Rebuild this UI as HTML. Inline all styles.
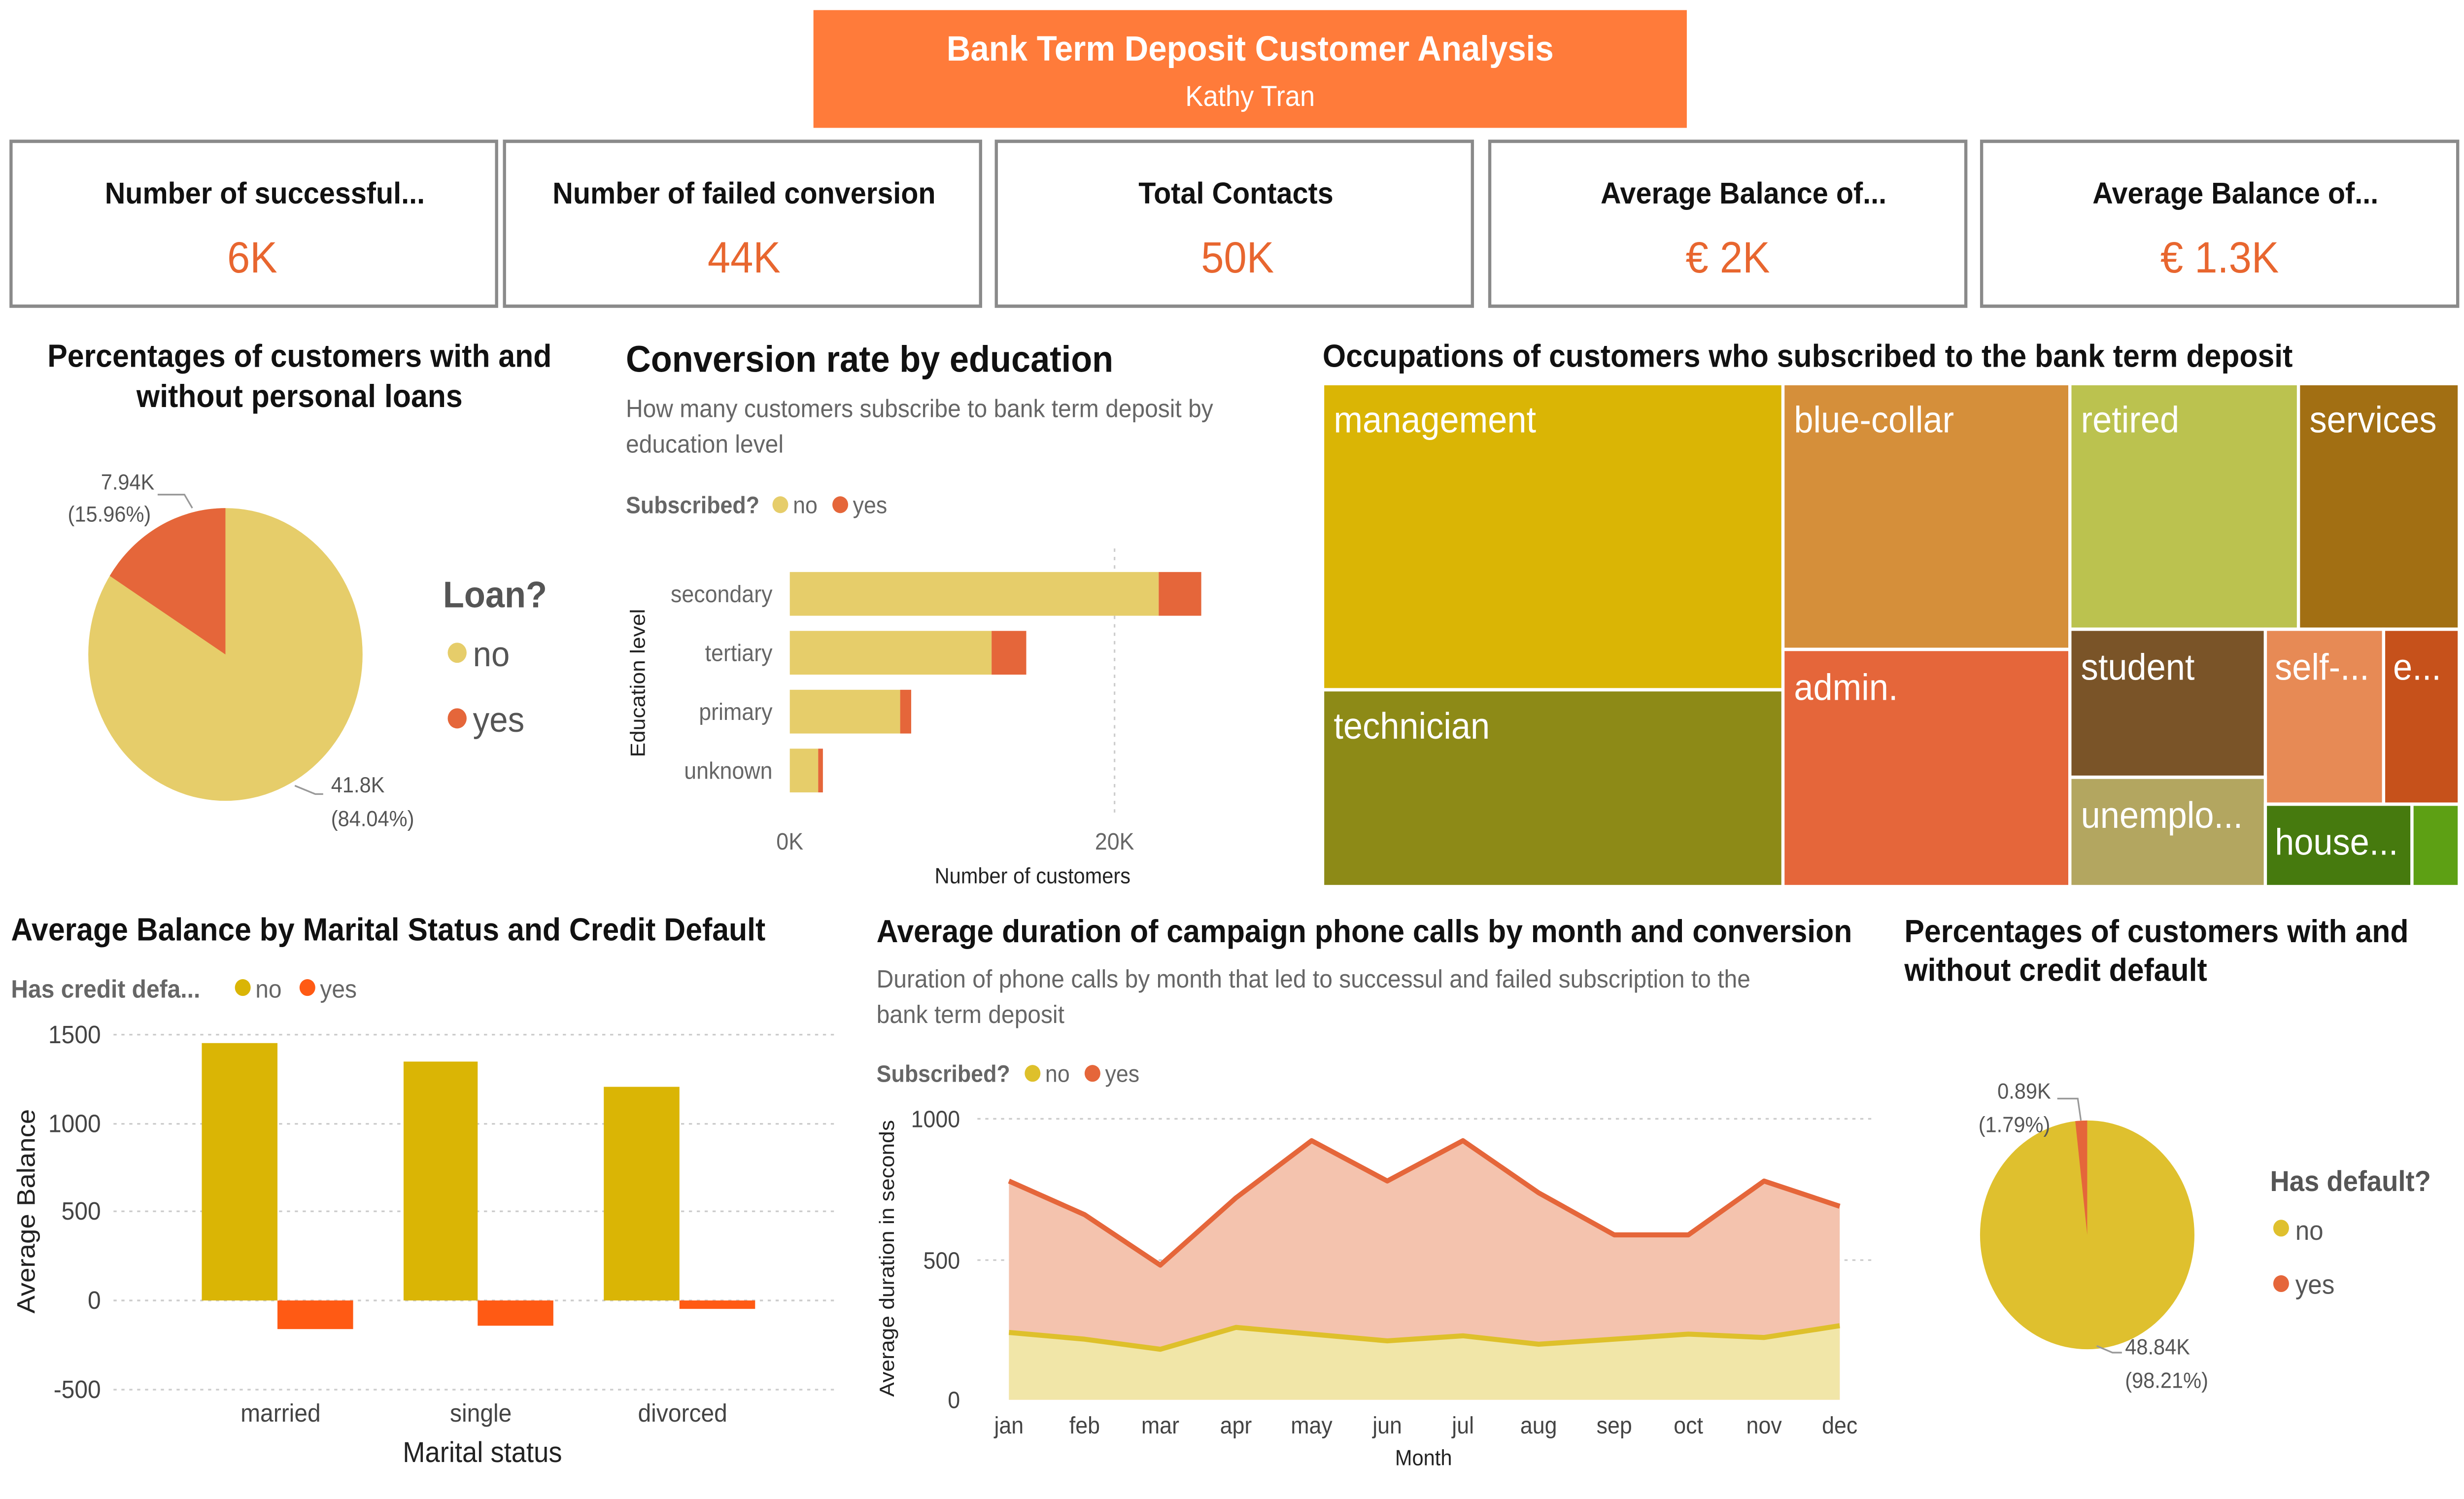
<!DOCTYPE html>
<html><head><meta charset="utf-8"><style>
html,body{margin:0;padding:0;background:#fff;width:100%;height:100%;overflow:hidden;}
svg{display:block;position:fixed;left:0;top:0;width:100vw;height:100vh;font-family:"Liberation Sans",sans-serif;}
</style></head><body>
<svg viewBox="0 0 1563 891" preserveAspectRatio="none" xmlns="http://www.w3.org/2000/svg">
<rect x="0" y="0" width="1563" height="891" fill="#fff"/>
<rect x="516" y="6" width="554" height="70" fill="#FF7B3A"/>
<text x="793" y="36" text-anchor="middle" font-size="21" font-weight="bold" fill="#fff">Bank Term Deposit Customer Analysis</text>
<text x="793" y="63" text-anchor="middle" font-size="17" fill="#fff">Kathy Tran</text>
<g fill="#fff" stroke="#8a8a8a" stroke-width="2">
<rect x="7" y="84" width="308" height="98"/>
<rect x="320" y="84" width="302" height="98"/>
<rect x="632" y="84" width="302" height="98"/>
<rect x="945" y="84" width="302" height="98"/>
<rect x="1257" y="84" width="302" height="98"/>
</g>
<g text-anchor="middle" font-size="18" font-weight="bold" fill="#111">
<text x="168" y="121">Number of successful...</text>
<text x="472" y="121">Number of failed conversion</text>
<text x="784" y="121">Total Contacts</text>
<text x="1106" y="121">Average Balance of...</text>
<text x="1418" y="121">Average Balance of...</text>
</g>
<g text-anchor="middle" font-size="26" fill="#E8662F">
<text x="160" y="162">6K</text>
<text x="472" y="162">44K</text>
<text x="785" y="162">50K</text>
<text x="1096" y="162">€ 2K</text>
<text x="1408" y="162">€ 1.3K</text>
</g>
<g font-size="19" font-weight="bold" fill="#111" text-anchor="middle">
<text x="190" y="218">Percentages of customers with and</text>
<text x="190" y="242">without personal loans</text>
</g>
<circle cx="143" cy="389" r="87" fill="#E6CD6A"/>
<path d="M143,389 L143,302 A87,87 0 0 0 69.6,342.3 Z" fill="#E5663A"/>
<polyline points="100,294 117,294 122,302" fill="none" stroke="#999" stroke-width="1"/>
<polyline points="187,467 200,472 205,472" fill="none" stroke="#999" stroke-width="1"/>
<g font-size="13" fill="#555">
<text x="64" y="291">7.94K</text>
<text x="43" y="310">(15.96%)</text>
<text x="210" y="471">41.8K</text>
<text x="210" y="491">(84.04%)</text>
</g>
<text x="281" y="361" font-size="22" font-weight="bold" fill="#555">Loan?</text>
<circle cx="290" cy="388" r="6" fill="#E6CD6A"/>
<text x="300" y="396" font-size="21" fill="#555">no</text>
<circle cx="290" cy="427" r="6" fill="#E5663A"/>
<text x="300" y="435" font-size="21" fill="#555">yes</text>
<text x="397" y="221" font-size="22" font-weight="bold" fill="#111">Conversion rate by education</text>
<text x="397" y="248" font-size="15" fill="#666">How many customers subscribe to bank term deposit by</text>
<text x="397" y="269" font-size="15" fill="#666">education level</text>
<text x="397" y="305" font-size="14" font-weight="bold" fill="#666">Subscribed?</text>
<circle cx="495" cy="300" r="5" fill="#E6CD6A"/><text x="503" y="305" font-size="14" fill="#666">no</text>
<circle cx="533" cy="300" r="5" fill="#E5663A"/><text x="541" y="305" font-size="14" fill="#666">yes</text>
<line x1="707" y1="326" x2="707" y2="485" stroke="#ccc" stroke-dasharray="2,3"/>
<g fill="#E6CD6A">
<rect x="501" y="340" width="234" height="26"/>
<rect x="501" y="375" width="128" height="26"/>
<rect x="501" y="410" width="70" height="26"/>
<rect x="501" y="445" width="18" height="26"/>
</g>
<g fill="#E5663A">
<rect x="735" y="340" width="27" height="26"/>
<rect x="629" y="375" width="22" height="26"/>
<rect x="571" y="410" width="7" height="26"/>
<rect x="519" y="445" width="3" height="26"/>
</g>
<g font-size="14" fill="#666" text-anchor="end">
<text x="490" y="358">secondary</text>
<text x="490" y="393">tertiary</text>
<text x="490" y="428">primary</text>
<text x="490" y="463">unknown</text>
</g>
<g font-size="14" fill="#666" text-anchor="middle">
<text x="501" y="505">0K</text>
<text x="707" y="505">20K</text>
</g>
<text x="655" y="525" font-size="13" fill="#222" text-anchor="middle">Number of customers</text>
<text transform="translate(409,406) rotate(-90)" font-size="13" fill="#222" text-anchor="middle">Education level</text>
<text x="839" y="218" font-size="19" font-weight="bold" fill="#111">Occupations of customers who subscribed to the bank term deposit</text>
<g stroke="#fff" stroke-width="2">
<rect x="839" y="228" width="292" height="182" fill="#DAB505"/>
<rect x="839" y="410" width="292" height="117" fill="#8D8A17"/>
<rect x="1131" y="228" width="182" height="158" fill="#D58F3A"/>
<rect x="1131" y="386" width="182" height="141" fill="#E5663A"/>
<rect x="1313" y="228" width="145" height="146" fill="#BBC24F"/>
<rect x="1458" y="228" width="102" height="146" fill="#A26F13"/>
<rect x="1313" y="374" width="124" height="88" fill="#7A5428"/>
<rect x="1437" y="374" width="75" height="104" fill="#E78A55"/>
<rect x="1512" y="374" width="48" height="104" fill="#C6511B"/>
<rect x="1313" y="462" width="124" height="65" fill="#B3A660"/>
<rect x="1437" y="478" width="93" height="49" fill="#467A0E"/>
<rect x="1530" y="478" width="30" height="49" fill="#5DA014"/>
</g>
<g font-size="22" fill="#fff">
<text x="846" y="257">management</text>
<text x="846" y="439">technician</text>
<text x="1138" y="257">blue-collar</text>
<text x="1138" y="416">admin.</text>
<text x="1320" y="257">retired</text>
<text x="1465" y="257">services</text>
<text x="1320" y="404">student</text>
<text x="1443" y="404">self-...</text>
<text x="1518" y="404">e...</text>
<text x="1320" y="492">unemplo...</text>
<text x="1443" y="508">house...</text>
</g>
<text x="7" y="559" font-size="19" font-weight="bold" fill="#111">Average Balance by Marital Status and Credit Default</text>
<text x="7" y="593" font-size="15" font-weight="bold" fill="#666">Has credit defa...</text>
<circle cx="154" cy="587" r="5" fill="#DAB505"/><text x="162" y="593" font-size="15" fill="#666">no</text>
<circle cx="195" cy="587" r="5" fill="#FF5A14"/><text x="203" y="593" font-size="15" fill="#666">yes</text>
<g stroke="#ccc" stroke-dasharray="2,3">
<line x1="72" y1="615" x2="530" y2="615"/><line x1="72" y1="668" x2="530" y2="668"/>
<line x1="72" y1="720" x2="530" y2="720"/><line x1="72" y1="773" x2="530" y2="773"/>
<line x1="72" y1="826" x2="530" y2="826"/>
</g>
<g font-size="15" fill="#444" text-anchor="end">
<text x="64" y="620">1500</text><text x="64" y="673">1000</text><text x="64" y="725">500</text>
<text x="64" y="778">0</text><text x="64" y="831">-500</text>
</g>
<g fill="#DAB505">
<rect x="128" y="620" width="48" height="153"/>
<rect x="256" y="631" width="47" height="142"/>
<rect x="383" y="646" width="48" height="127"/>
</g>
<g fill="#FF5A14">
<rect x="176" y="773" width="48" height="17"/>
<rect x="303" y="773" width="48" height="15"/>
<rect x="431" y="773" width="48" height="5"/>
</g>
<g font-size="15" fill="#444" text-anchor="middle">
<text x="178" y="845">married</text><text x="305" y="845">single</text><text x="433" y="845">divorced</text>
</g>
<text x="306" y="869" font-size="17" fill="#222" text-anchor="middle">Marital status</text>
<text transform="translate(22,720) rotate(-90)" font-size="16" fill="#222" text-anchor="middle">Average Balance</text>
<text x="556" y="560" font-size="19" font-weight="bold" fill="#111">Average duration of campaign phone calls by month and conversion</text>
<text x="556" y="587" font-size="15" fill="#666">Duration of phone calls by month that led to successul and failed subscription to the</text>
<text x="556" y="608" font-size="15" fill="#666">bank term deposit</text>
<text x="556" y="643" font-size="14" font-weight="bold" fill="#666">Subscribed?</text>
<circle cx="655" cy="638" r="5" fill="#DEC02B"/><text x="663" y="643" font-size="14" fill="#666">no</text>
<circle cx="693" cy="638" r="5" fill="#E5663A"/><text x="701" y="643" font-size="14" fill="#666">yes</text>
<g stroke="#ccc" stroke-dasharray="2,3">
<line x1="620" y1="665" x2="1187" y2="665"/><line x1="620" y1="749" x2="1187" y2="749"/>
</g>
<g font-size="14" fill="#444" text-anchor="end">
<text x="609" y="670">1000</text><text x="609" y="754">500</text><text x="609" y="837">0</text>
</g>
<path d="M640,702 L688,722 L736,752 L784,712 L832,678 L880,702 L928,678 L976,709 L1024,734 L1071,734 L1119,702 L1167,717 L1167,832 L640,832 Z" fill="#F4C3AE"/>
<path d="M640,792 L688,796 L736,802 L784,789 L832,793 L880,797 L928,794 L976,799 L1024,796 L1071,793 L1119,795 L1167,788 L1167,832 L640,832 Z" fill="#F1E6A8"/>
<polyline points="640,702 688,722 736,752 784,712 832,678 880,702 928,678 976,709 1024,734 1071,734 1119,702 1167,717" fill="none" stroke="#E5663A" stroke-width="3" stroke-linejoin="round"/>
<polyline points="640,792 688,796 736,802 784,789 832,793 880,797 928,794 976,799 1024,796 1071,793 1119,795 1167,788" fill="none" stroke="#DEC02B" stroke-width="3" stroke-linejoin="round"/>
<g font-size="14" fill="#444" text-anchor="middle">
<text x="640" y="852">jan</text><text x="688" y="852">feb</text><text x="736" y="852">mar</text><text x="784" y="852">apr</text>
<text x="832" y="852">may</text><text x="880" y="852">jun</text><text x="928" y="852">jul</text><text x="976" y="852">aug</text>
<text x="1024" y="852">sep</text><text x="1071" y="852">oct</text><text x="1119" y="852">nov</text><text x="1167" y="852">dec</text>
</g>
<text x="903" y="871" font-size="13" fill="#222" text-anchor="middle">Month</text>
<text transform="translate(567,748) rotate(-90)" font-size="13" fill="#222" text-anchor="middle">Average duration in seconds</text>
<text x="1208" y="560" font-size="19" font-weight="bold" fill="#111">Percentages of customers with and</text>
<text x="1208" y="583" font-size="19" font-weight="bold" fill="#111">without credit default</text>
<circle cx="1324" cy="734" r="68" fill="#DFC02E"/>
<path d="M1324,734 L1324,666 A68,68 0 0 0 1316.4,666.4 Z" fill="#E5663A"/>
<polyline points="1305,653 1318,653 1320,666" fill="none" stroke="#999" stroke-width="1"/>
<polyline points="1330,800 1340,804 1346,804" fill="none" stroke="#999" stroke-width="1"/>
<g font-size="13" fill="#555">
<text x="1267" y="653">0.89K</text>
<text x="1255" y="673">(1.79%)</text>
<text x="1348" y="805">48.84K</text>
<text x="1348" y="825">(98.21%)</text>
</g>
<text x="1440" y="708" font-size="17" font-weight="bold" fill="#555">Has default?</text>
<circle cx="1447" cy="730" r="5" fill="#DFC02E"/><text x="1456" y="737" font-size="16" fill="#555">no</text>
<circle cx="1447" cy="763" r="5" fill="#E5663A"/><text x="1456" y="769" font-size="16" fill="#555">yes</text>
</svg>
</body></html>
